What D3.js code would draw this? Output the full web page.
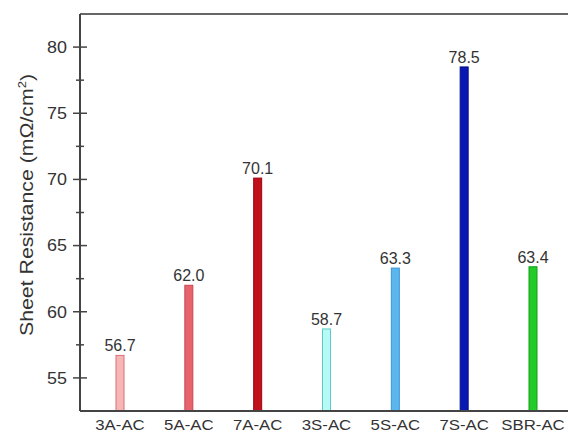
<!DOCTYPE html>
<html>
<head>
<meta charset="utf-8">
<script src="https://cdn.jsdelivr.net/npm/d3@7"></script>
<style>
  body { margin: 0; background: #fff; }
  text { font-family: "Liberation Sans", Arial, sans-serif; }
</style>
</head>
<body>
<div id="chart"></div>
<script>
// Data
const categories = ["3A-AC", "5A-AC", "7A-AC", "3S-AC", "5S-AC", "7S-AC", "SBR-AC"];
const values = [56.7, 62.0, 70.1, 58.7, 63.3, 78.5, 63.4];
const labels = ["56.7", "62.0", "70.1", "58.7", "63.3", "78.5", "63.4"];
const fills = ["#f6b6b6", "#e8646c", "#c0101a", "#b6faf6", "#5cb6ee", "#0a18b2", "#24cc2a"];
const strokes = ["#d8707a", "#c84450", "#a00010", "#5ccac6", "#3a96d6", "#001090", "#10a018"];
const yTicks = [55, 60, 65, 70, 75, 80];

const W = 568, H = 432;
const plotLeft = 80, plotTop = 14, plotBottom = 411, plotRight = 575;

const svg = d3.select("#chart").append("svg")
    .attr("width", W)
    .attr("height", H);

// Scales
const y = d3.scaleLinear().domain([52.5, 82.5]).range([plotBottom, plotTop]);
const x = d3.scalePoint().domain(categories).range([120, 533]);

// top frame line
svg.append("line")
    .attr("x1", plotLeft).attr("x2", plotRight)
    .attr("y1", plotTop).attr("y2", plotTop)
    .attr("stroke", "#666").attr("stroke-width", 2);

// Y axis: major + minor ticks crossing the axis
const yAxis = svg.append("g");
yAxis.append("line")
    .attr("x1", plotLeft).attr("x2", plotLeft)
    .attr("y1", plotTop).attr("y2", plotBottom)
    .attr("stroke", "#444").attr("stroke-width", 2);

const minor = d3.range(52.5, 82.5, 2.5).filter(v => v % 5 !== 0 && v > 52.5);
yAxis.selectAll(".minor")
    .data(minor)
    .enter().append("line")
    .attr("x1", plotLeft - 4).attr("x2", plotLeft + 4)
    .attr("y1", d => y(d)).attr("y2", d => y(d))
    .attr("stroke", "#444").attr("stroke-width", 1.5);

yAxis.selectAll(".major")
    .data(yTicks)
    .enter().append("line")
    .attr("x1", plotLeft - 7).attr("x2", plotLeft + 7)
    .attr("y1", d => y(d)).attr("y2", d => y(d))
    .attr("stroke", "#444").attr("stroke-width", 1.5);

yAxis.selectAll(".ylab")
    .data(yTicks)
    .enter().append("text")
    .attr("transform", d => `translate(${plotLeft - 13}, ${y(d)}) scale(1.12, 1)`)
    .attr("dy", "0.36em")
    .attr("text-anchor", "end")
    .style("font-size", "16px")
    .attr("fill", "#333")
    .text(d => d);

// Y axis title
svg.append("text")
    .attr("transform", `translate(33, 205) rotate(-90)`)
    .attr("text-anchor", "middle")
    .attr("textLength", 262)
    .attr("lengthAdjust", "spacingAndGlyphs")
    .style("font-size", "18px")
    .attr("fill", "#333")
    .html('Sheet Resistance (mΩ/cm<tspan dy="-7" font-size="11px">2</tspan><tspan dy="7">)</tspan>');

// Bars
svg.selectAll(".bar")
    .data(values)
    .enter().append("rect")
    .attr("class", "bar")
    .attr("x", (d, i) => x(categories[i]) - 4)
    .attr("width", 8)
    .attr("y", d => y(d))
    .attr("height", d => plotBottom - y(d))
    .attr("fill", (d, i) => fills[i])
    .attr("stroke", (d, i) => strokes[i])
    .attr("stroke-width", 1);

// Value labels
svg.selectAll(".val")
    .data(values)
    .enter().append("text")
    .attr("x", (d, i) => x(categories[i]))
    .attr("y", d => y(d) - 4)
    .attr("text-anchor", "middle")
    .style("font-size", "16px")
    .attr("fill", "#333")
    .text((d, i) => labels[i]);

// X axis line
svg.append("line")
    .attr("x1", plotLeft).attr("x2", plotRight)
    .attr("y1", plotBottom).attr("y2", plotBottom)
    .attr("stroke", "#444").attr("stroke-width", 2);

// X labels
svg.selectAll(".xlab")
    .data(categories)
    .enter().append("text")
    .attr("transform", d => `translate(${x(d)}, 430) scale(1.2, 1)`)
    .attr("text-anchor", "middle")
    .style("font-size", "14px")
    .attr("fill", "#333")
    .text(d => d);
</script>
</body>
</html>
